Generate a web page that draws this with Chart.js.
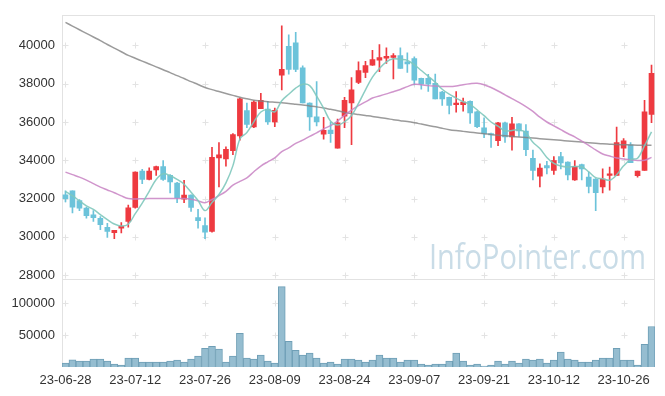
<!DOCTYPE html>
<html>
<head>
<meta charset="utf-8">
<script src="https://cdn.jsdelivr.net/npm/chart.js@4/dist/chart.umd.min.js"></script>
<style>
  html, body { margin: 0; padding: 0; background: #fff; }
</style>
</head>
<body>
<canvas id="chart" width="665" height="396"></canvas>
<script>
const dates = [
  '23-06-28','23-06-29','23-06-30','23-07-03','23-07-04','23-07-05','23-07-06','23-07-07','23-07-10','23-07-11',
  '23-07-12','23-07-13','23-07-14','23-07-17','23-07-18','23-07-19','23-07-20','23-07-21','23-07-24','23-07-25',
  '23-07-26','23-07-27','23-07-28','23-07-31','23-08-01','23-08-02','23-08-03','23-08-04','23-08-07','23-08-08',
  '23-08-09','23-08-10','23-08-11','23-08-14','23-08-16','23-08-17','23-08-18','23-08-21','23-08-22','23-08-23',
  '23-08-24','23-08-25','23-08-28','23-08-29','23-08-30','23-08-31','23-09-01','23-09-04','23-09-05','23-09-06',
  '23-09-07','23-09-08','23-09-11','23-09-12','23-09-13','23-09-14','23-09-15','23-09-18','23-09-19','23-09-20',
  '23-09-21','23-09-22','23-09-25','23-09-26','23-09-27','23-10-04','23-10-05','23-10-06','23-10-10','23-10-11',
  '23-10-12','23-10-13','23-10-16','23-10-17','23-10-18','23-10-19','23-10-20','23-10-23','23-10-24','23-10-25',
  '23-10-26','23-10-27','23-10-30','23-10-31','23-11-01'
];
const xTickLabels = ['23-06-28','23-07-12','23-07-26','23-08-09','23-08-24','23-09-07','23-09-21','23-10-12','23-10-26'];

const opens = [
  32200,32400,31900,31500,31150,30970,30500,30220,30450,30800,
  31540,33430,33000,33500,33670,33210,32810,31970,32180,31010,
  30590,30280,34120,34070,34500,35270,36600,35740,36700,36680,
  36010,38450,39950,40140,38830,36990,36270,35360,35580,34630,
  36300,36990,38070,38590,38970,39230,39330,39370,39470,39140,
  39310,38280,38280,38020,37560,37290,36900,36900,37080,36530,
  35700,35400,35020,35960,35220,35910,35530,34100,33170,33720,
  33470,34190,33900,32980,33780,33120,33020,32610,33210,33210,
  34630,34810,33190,33470,36390
];
const highs = [
  32400,32400,31950,31550,31370,31060,30710,30340,30750,31660,
  33400,33530,33600,33700,33980,33250,32850,32950,32200,31440,
  30990,34670,34930,34700,35390,37250,36990,37100,37500,37080,
  36730,41030,40550,40690,38940,37000,38110,36250,36000,36150,
  37290,38320,39140,39170,39740,40040,39870,39570,39870,39610,
  39400,38300,38490,38500,37600,37300,37590,37250,37100,36560,
  36220,35420,35980,36000,36250,35920,35870,34530,33810,33950,
  34190,34410,33920,33980,33800,33380,33050,33550,33640,35740,
  35130,34930,33430,37130,38970
];
const lows = [
  31830,31250,31370,30970,30800,30370,29970,29900,30200,30500,
  31500,32780,32980,33210,32950,32300,31780,31780,31330,30450,
  29910,30250,32610,33690,34290,35050,35700,35700,36700,35870,
  35750,37680,38500,38630,36990,35560,35790,35100,34930,34630,
  35700,34810,38000,38320,38950,38630,39060,38250,38800,38590,
  37940,37710,37600,37200,36870,36420,36510,36560,35920,35700,
  35180,34670,34760,34930,34530,35240,34240,32980,32610,33290,
  33260,33550,32980,32950,32980,32300,31370,32300,32440,33200,
  34190,33880,33120,33470,35960
];
const closes = [
  32000,31550,31500,31100,31000,30630,30280,30340,30550,31520,
  33380,33000,33430,33670,33000,32870,32050,32180,31540,30840,
  30250,34150,34280,34570,35340,37210,35870,37040,37130,36010,
  36610,38750,38750,38750,36990,36270,36010,35560,35390,35960,
  37130,37680,38690,38950,39260,39370,39430,39470,38800,39040,
  38190,37970,37970,37210,37210,36870,36990,37040,36480,35750,
  35390,35330,35960,35220,35910,35530,34550,33470,33590,33600,
  33980,33860,33240,33690,33550,32640,32310,33020,33290,34930,
  35020,33880,33430,36530,38540
];
const volumes = [
  6200,11350,9300,9300,12400,12400,9300,4600,3100,13900,
  13900,7700,7700,7700,7700,9300,10800,7700,12400,17000,
  29400,32500,27900,7700,17000,52600,13900,12400,18600,9300,
  6200,125900,40200,26300,18600,21700,13900,6200,7700,4600,
  12400,12400,10800,7700,10800,18600,13900,13900,7700,10800,
  10800,4600,3100,4600,4600,9300,21700,9300,3100,4600,
  1500,3100,9300,4600,9300,6200,12400,10800,12400,6200,
  10800,23200,12400,10800,7700,7700,10800,13900,13900,29400,
  10800,10800,3100,35600,63500
];
const maShort = [
  32380,32150,31880,31620,31430,31160,30900,30670,30560,30660,
  31210,31760,32380,33000,33300,33190,33000,32750,32330,31900,
  31370,31790,32210,32820,33720,35110,35450,36010,36520,36650,
  36530,37110,37450,37770,37970,37900,37350,36720,36040,35840,
  36010,36340,36970,37680,38340,38790,39140,39300,39270,39220,
  38990,38690,38390,38080,37710,37450,37250,37060,36920,36630,
  36330,36000,35780,35530,35560,35590,35430,34940,34610,34150,
  33840,33700,33650,33670,33660,33400,33090,33040,32960,33240,
  33710,34030,34110,34760,35480
];
const maMid = [
  33380,33250,33120,32960,32780,32600,32450,32300,32140,32000,
  31980,31990,32000,32000,32000,32000,32000,32000,31960,31880,
  31780,31950,32150,32380,32700,32900,33080,33400,33700,33920,
  34120,34450,34650,34880,35050,35250,35430,35640,35810,36050,
  36350,36620,36850,37050,37250,37360,37470,37580,37700,37850,
  37970,37950,37900,37880,37860,37850,37880,37950,38000,38020,
  37950,37800,37620,37420,37220,37020,36800,36550,36250,36000,
  35800,35600,35400,35220,35000,34780,34540,34330,34220,34120,
  34070,34030,33990,34000,34150
];
const maLong = [
  41200,41010,40820,40630,40440,40250,40050,39860,39670,39480,
  39330,39180,39030,38880,38730,38580,38420,38270,38110,37960,
  37800,37690,37590,37490,37390,37290,37210,37140,37100,37060,
  37030,37000,36970,36930,36890,36840,36790,36730,36660,36590,
  36500,36440,36390,36340,36290,36230,36180,36120,36070,36020,
  35960,35890,35820,35750,35670,35600,35550,35510,35470,35430,
  35390,35340,35310,35280,35250,35220,35190,35160,35130,35100,
  35070,35040,35010,34980,34950,34920,34890,34860,34840,34820,
  34810,34800,34790,34790,34790
];
const priceTicks = [28000, 30000, 32000, 34000, 36000, 38000, 40000];
const volumeTicks = [50000, 100000];

const colors = {
  up: '#ee3a40',
  down: '#6cc3da',
  volume: '#95bdd0',
  volumeEdge: '#6f9fb6',
  maShort: 'rgba(128, 200, 188, 0.9)',
  maMid: 'rgba(200, 130, 195, 0.85)',
  maLong: 'rgba(130, 130, 130, 0.8)',
  frame: '#e2e2e2',
  cross: '#e3e3e3',
  text: '#333',
  watermark: '#c9dce7'
};

const candleColors = opens.map((o, i) => closes[i] >= o ? colors.up : colors.down);
const tickFont = { family: "'Liberation Sans', Arial, sans-serif", size: 13 };
const plainNumber = (value) => String(value);

// frame, grid crosses and the watermark, all placed from the scales
const panelDecor = {
  id: 'panelDecor',
  beforeDatasetsDraw(chart) {
    const { ctx } = chart;
    const x = chart.scales.x, yP = chart.scales.yPrice, yV = chart.scales.yVol;

    ctx.save();
    const text = 'InfoPointer.com';
    ctx.font = "34px 'Open Sans', sans-serif";
    const w = ctx.measureText(text).width;
    const target = 217;
    ctx.translate(x.right - 9 - target, yP.bottom - 10);
    ctx.scale(target / w, 1);
    ctx.fillStyle = colors.watermark;
    ctx.fillText(text, 0, 0);
    ctx.restore();

    ctx.save();
    ctx.strokeStyle = colors.cross;
    ctx.lineWidth = 1;
    const ys = yP.ticks.map(t => yP.getPixelForValue(t.value))
      .concat(yV.ticks.map(t => yV.getPixelForValue(t.value)));
    x.ticks.forEach((t, i) => {
      const px = Math.round(x.getPixelForTick(i)) + 0.5;
      ys.forEach(y => {
        const py = Math.round(y) + 0.5;
        ctx.beginPath();
        ctx.moveTo(px - 3, py); ctx.lineTo(px + 3, py);
        ctx.moveTo(px, py - 3); ctx.lineTo(px, py + 3);
        ctx.stroke();
      });
    });

    ctx.strokeStyle = colors.frame;
    const l = Math.round(x.left) + 0.5, r = Math.round(x.right) - 0.5;
    ctx.strokeRect(l, Math.round(yP.top) + 0.5, r - l, Math.round(yP.bottom - yP.top));
    ctx.beginPath();
    ctx.moveTo(l, yV.top); ctx.lineTo(l, yV.bottom);
    ctx.moveTo(r, yV.top); ctx.lineTo(r, yV.bottom);
    ctx.stroke();
    ctx.restore();
  }
};

const lineSet = (data, color) => ({
  type: 'line',
  data: data,
  yAxisID: 'yPrice',
  borderColor: color,
  borderWidth: 1.5,
  pointRadius: 0,
  tension: 0.35,
  fill: false
});

new Chart(document.getElementById('chart'), {
  data: {
    labels: dates,
    datasets: [
      lineSet(maShort, colors.maShort),
      lineSet(maMid, colors.maMid),
      lineSet(maLong, colors.maLong),
      {
        type: 'bar',
        data: opens.map((o, i) => [o, closes[i]]),
        yAxisID: 'yPrice',
        backgroundColor: candleColors,
        grouped: false,
        barPercentage: 1,
        categoryPercentage: 1,
        maxBarThickness: 5,
        minBarLength: 1
      },
      {
        type: 'bar',
        data: lows.map((l, i) => [l, highs[i]]),
        yAxisID: 'yPrice',
        backgroundColor: candleColors,
        grouped: false,
        barPercentage: 1,
        categoryPercentage: 1,
        maxBarThickness: 1
      },
      {
        type: 'bar',
        data: volumes,
        yAxisID: 'yVol',
        backgroundColor: colors.volume,
        borderColor: colors.volumeEdge,
        borderWidth: 1,
        grouped: false,
        barPercentage: 1,
        categoryPercentage: 1
      }
    ]
  },
  options: {
    responsive: false,
    animation: false,
    layout: { padding: { top: 10, right: 10, left: 0, bottom: 0 } },
    plugins: {
      legend: { display: false },
      tooltip: { enabled: false }
    },
    scales: {
      x: {
        type: 'category',
        offset: true,
        grid: { display: false, drawTicks: false },
        border: { display: false },
        afterBuildTicks: (axis) => {
          axis.ticks = xTickLabels.map(l => ({ value: dates.indexOf(l) }));
        },
        afterFit: (axis) => { axis.height = 29; },
        ticks: {
          autoSkip: false,
          maxRotation: 0,
          padding: 6,
          color: colors.text,
          font: tickFont
        }
      },
      yVol: {
        type: 'linear',
        position: 'left',
        stack: 'panels',
        stackWeight: 1,
        min: 0,
        max: 138000,
        grid: { display: false, drawTicks: false },
        border: { display: false },
        afterBuildTicks: (axis) => {
          axis.ticks = volumeTicks.map(v => ({ value: v }));
        },
        afterFit: (axis) => { axis.width = 62; },
        ticks: { padding: 7, color: colors.text, font: tickFont, callback: plainNumber }
      },
      yPrice: {
        type: 'linear',
        position: 'left',
        stack: 'panels',
        stackWeight: 3,
        min: 27800,
        max: 41600,
        grid: { display: false, drawTicks: false },
        border: { display: false },
        afterBuildTicks: (axis) => {
          axis.ticks = priceTicks.map(v => ({ value: v }));
        },
        afterFit: (axis) => { axis.width = 62; },
        ticks: { padding: 7, color: colors.text, font: tickFont, callback: plainNumber }
      }
    }
  },
  plugins: [panelDecor]
});
</script>
</body>
</html>
